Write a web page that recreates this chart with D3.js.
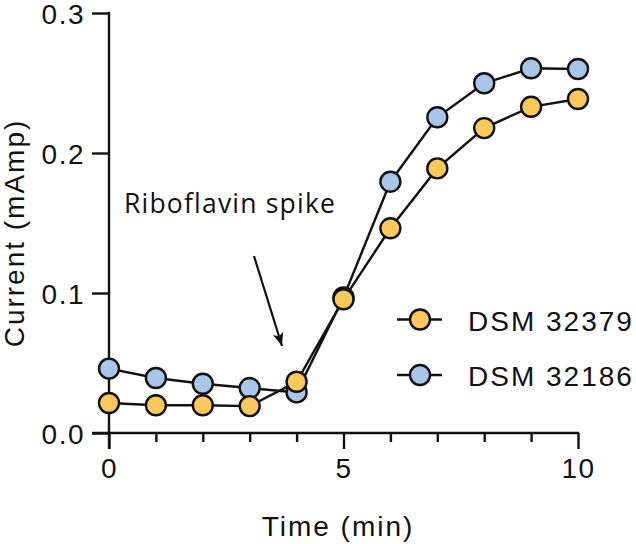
<!DOCTYPE html>
<html>
<head>
<meta charset="utf-8">
<script src="https://cdn.jsdelivr.net/npm/d3@7"></script>
<style>
  html, body { margin: 0; padding: 0; background: #fff; }
  svg { display: block; }
  text { font-family: "Liberation Sans", Arial, sans-serif; fill: #111; }
</style>
</head>
<body>
<svg id="chart" width="636" height="544"></svg>
<script>
const times = [0, 1, 2, 3, 4, 5, 6, 7, 8, 9, 10];
const seriesNames = ["DSM 32379", "DSM 32186"];
const dsm32379 = [0.0214, 0.0198, 0.0198, 0.0192, 0.0366, 0.0955, 0.1462, 0.1890, 0.2178, 0.2330, 0.2386];
const dsm32186 = [0.0460, 0.0393, 0.0352, 0.0321, 0.0290, 0.0968, 0.1795, 0.2255, 0.2498, 0.2605, 0.2600];
const xMajorTicks = [0, 5, 10];
const xMinorTicks = [1, 2, 3, 4, 6, 7, 8, 9];
const yTicks = [0.0, 0.1, 0.2, 0.3];
const annotationText = "Riboflavin spike";
const xTitle = "Time (min)";
const yTitle = "Current (mAmp)";

const colors = { "DSM 32379": "#FBC95B", "DSM 32186": "#A9C6E8" };

const svg = d3.select("#chart");
const x = d3.scaleLinear().domain([0, 10]).range([109, 578]);
const y = d3.scaleLinear().domain([0, 0.3]).range([433, 13]);

const axisColor = "#111";
const sw = 2.4;

// X axis
const gx = svg.append("g").attr("transform", `translate(0,${y(0)})`);
gx.call(d3.axisBottom(x).tickValues(xMajorTicks).tickSize(16).tickPadding(9).tickFormat(d3.format("d")));
gx.append("g").call(d3.axisBottom(x).tickValues(xMinorTicks).tickSize(9).tickFormat(""));
gx.selectAll(".domain").remove();
gx.append("line").attr("x1", x(0) - 17).attr("x2", x(10) + 1.2).attr("y1", 0).attr("y2", 0)
  .attr("stroke", axisColor).attr("stroke-width", sw);

// Y axis
const gy = svg.append("g").attr("transform", `translate(${x(0)},0)`);
gy.call(d3.axisLeft(y).tickValues(yTicks).tickSize(17).tickPadding(7).tickFormat(d3.format(".1f")));
gy.selectAll(".domain").remove();
gy.append("line").attr("x1", 0).attr("x2", 0).attr("y1", y(0.3) - 1.2).attr("y2", y(0) + 16)
  .attr("stroke", axisColor).attr("stroke-width", sw);

svg.selectAll(".tick line").attr("stroke", axisColor).attr("stroke-width", sw);
svg.selectAll(".tick text")
  .style("font-family", '"Liberation Sans", Arial, sans-serif')
  .style("font-size", "28px").style("letter-spacing", "1.5px").attr("fill", "#111");
gy.selectAll(".tick text").attr("dy", "0.36em");

// Axis titles
svg.append("text").attr("x", 338).attr("y", 536).attr("text-anchor", "middle")
  .style("font-size", "28px").style("letter-spacing", "2px").text(xTitle);
svg.append("text").attr("transform", "translate(24,233) rotate(-90)").attr("text-anchor", "middle")
  .style("font-size", "28px").style("letter-spacing", "2px").text(yTitle);

// Series
const series = [
  { name: "DSM 32186", values: dsm32186 },
  { name: "DSM 32379", values: dsm32379 }
];
const line = d3.line().x((d, i) => x(times[i])).y(d => y(d));

series.forEach(s => {
  svg.append("path").datum(s.values).attr("d", line)
    .attr("fill", "none").attr("stroke", "#111").attr("stroke-width", sw);
});
series.forEach(s => {
  svg.append("g").selectAll("circle").data(s.values).join("circle")
    .attr("cx", (d, i) => x(times[i])).attr("cy", d => y(d)).attr("r", 10)
    .attr("fill", colors[s.name]).attr("stroke", "#111").attr("stroke-width", sw);
});

// Annotation
svg.append("text").attr("x", 124).attr("y", 213)
  .style("font-family", '"Open Sans", "Noto Sans", sans-serif')
  .style("font-size", "26.5px").style("letter-spacing", "1.2px").attr("fill", "#111")
  .text(annotationText);

const defs = svg.append("defs");
defs.append("marker").attr("id", "arrow").attr("viewBox", "0 0 10 10")
  .attr("refX", 10).attr("refY", 5).attr("markerWidth", 6).attr("markerHeight", 6)
  .attr("markerUnits", "strokeWidth").attr("orient", "auto")
  .append("path").attr("d", "M0,1 L10,5 L0,9 L2.5,5 Z").attr("fill", "#111");
svg.append("line").attr("x1", 254).attr("y1", 256).attr("x2", 282).attr("y2", 346)
  .attr("stroke", "#111").attr("stroke-width", 2.2).attr("marker-end", "url(#arrow)");

// Legend
const legend = [
  { name: seriesNames[0], cy: 319.5 },
  { name: seriesNames[1], cy: 375 }
];
legend.forEach(l => {
  svg.append("line").attr("x1", 397).attr("x2", 442).attr("y1", l.cy).attr("y2", l.cy)
    .attr("stroke", "#111").attr("stroke-width", sw);
  svg.append("circle").attr("cx", 420).attr("cy", l.cy).attr("r", 10)
    .attr("fill", colors[l.name]).attr("stroke", "#111").attr("stroke-width", sw);
  svg.append("text").attr("x", 468).attr("y", l.cy + 11)
    .style("font-size", "28px").style("letter-spacing", "2px").text(l.name);
});
</script>
</body>
</html>
